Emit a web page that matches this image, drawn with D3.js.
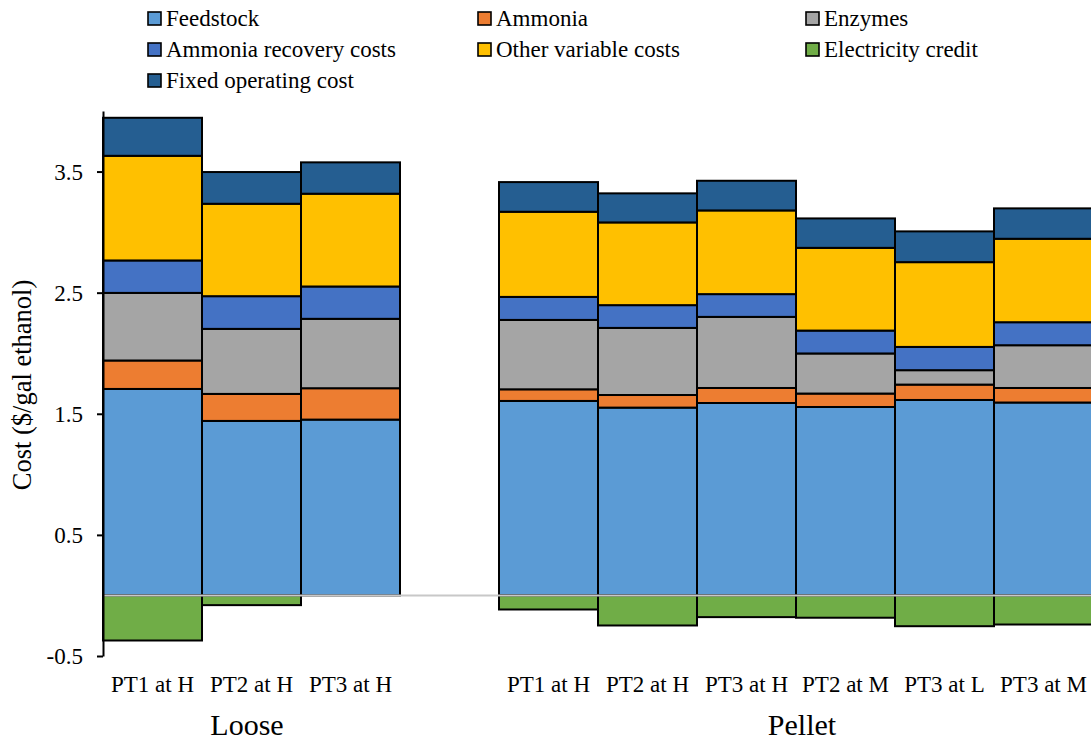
<!DOCTYPE html>
<html>
<head>
<meta charset="utf-8">
<script src="https://cdn.jsdelivr.net/npm/d3@7"></script>
<style>
  html, body { margin: 0; padding: 0; background: #fff; }
  svg { display: block; }
</style>
</head>
<body>
<svg id="chart" width="1091" height="744"></svg>
<script>
// Cost breakdown per pretreatment case ($/gal ethanol)
const groups = ["Loose", "Pellet"];
const categories = [
  { group: "Loose", label: "PT1 at H" },
  { group: "Loose", label: "PT2 at H" },
  { group: "Loose", label: "PT3 at H" },
  { group: "Pellet", label: "PT1 at H" },
  { group: "Pellet", label: "PT2 at H" },
  { group: "Pellet", label: "PT3 at H" },
  { group: "Pellet", label: "PT2 at M" },
  { group: "Pellet", label: "PT3 at L" },
  { group: "Pellet", label: "PT3 at M" }
];

const feedstock         = [1.705, 1.441, 1.452, 1.606, 1.551, 1.589, 1.556, 1.614, 1.593];
const ammonia           = [0.235, 0.223, 0.259, 0.096, 0.104, 0.124, 0.111, 0.127, 0.120];
const enzymes           = [0.558, 0.537, 0.573, 0.573, 0.554, 0.587, 0.331, 0.119, 0.353];
const ammoniaRecovery   = [0.268, 0.270, 0.267, 0.190, 0.188, 0.188, 0.189, 0.192, 0.190];
const otherVariable     = [0.864, 0.763, 0.766, 0.703, 0.683, 0.691, 0.683, 0.700, 0.689];
const electricityCredit = [-0.372, -0.080, 0.000, -0.116, -0.248, -0.179, -0.184, -0.254, -0.240];
const fixedOperating    = [0.314, 0.262, 0.259, 0.245, 0.240, 0.245, 0.243, 0.254, 0.251];

const yTicks = [-0.5, 0.5, 1.5, 2.5, 3.5];

const FONT = "Liberation Serif, DejaVu Serif, serif";

const series = [
  { key: "Feedstock", values: feedstock, color: "#5B9BD5" },
  { key: "Ammonia", values: ammonia, color: "#ED7D31" },
  { key: "Enzymes", values: enzymes, color: "#A5A5A5" },
  { key: "Ammonia recovery costs", values: ammoniaRecovery, color: "#4472C4" },
  { key: "Other variable costs", values: otherVariable, color: "#FFC000" },
  { key: "Electricity credit", values: electricityCredit, color: "#70AD47" },
  { key: "Fixed operating cost", values: fixedOperating, color: "#255E91" }
];

// Slots along the x axis: the loose cases, an empty spacer, then the pellet cases
const slots = [];
categories.forEach((c, i) => {
  if (i > 0 && c.group !== categories[i - 1].group) slots.push("gap-" + i);
  slots.push("c" + i);
});

const rows = categories.map((c, i) => {
  const r = { id: "c" + i };
  series.forEach(s => { r[s.key] = s.values[i]; });
  return r;
});

const stack = d3.stack()
  .keys(series.map(s => s.key))
  .offset(d3.stackOffsetDiverging);
const stacked = stack(rows);

const svg = d3.select("#chart");

const x = d3.scaleBand().domain(slots).range([103, 1093]).padding(0);
const y = d3.scaleLinear().domain([-0.5, 4.0]).range([656, 111]);

// Bars
const layer = svg.append("g");
stacked.forEach((st, si) => {
  layer.append("g")
    .attr("fill", series[si].color)
    .selectAll("rect")
    .data(st.filter(d => d[1] !== d[0]))
    .join("rect")
    .attr("x", d => x(d.data.id))
    .attr("width", x.bandwidth())
    .attr("y", d => y(Math.max(d[0], d[1])))
    .attr("height", d => Math.abs(y(d[0]) - y(d[1])))
    .attr("stroke", "#000")
    .attr("stroke-width", 2);
});

// Zero baseline
svg.append("line")
  .attr("x1", 103).attr("x2", 1091)
  .attr("y1", y(0)).attr("y2", y(0))
  .attr("stroke", "#c8c8c8")
  .attr("stroke-width", 2);

// Y axis
const yAxis = d3.axisLeft(y).tickValues(yTicks).tickSize(6).tickSizeOuter(0)
  .tickFormat(d => d.toFixed(1));
const yg = svg.append("g").attr("transform", "translate(103,0)").call(yAxis);
yg.select(".domain").attr("stroke", "#000").attr("stroke-width", 2);
yg.selectAll(".tick line").attr("stroke", "#000").attr("stroke-width", 2);
yg.selectAll(".tick text")
  .attr("x", -20)
  .attr("dy", "0.34em")
  .style("font-family", FONT)
  .attr("font-size", 23)
  .attr("fill", "#000");

// Y axis title
svg.append("text")
  .attr("transform", "translate(31, 385) rotate(-90)")
  .attr("text-anchor", "middle")
  .style("font-family", FONT)
  .attr("font-size", 26.5)
  .attr("fill", "#000")
  .text("Cost ($/gal ethanol)");

// Category labels
svg.append("g").selectAll("text")
  .data(categories)
  .join("text")
  .attr("x", (d, i) => x("c" + i) + x.bandwidth() / 2)
  .attr("y", 692)
  .attr("text-anchor", "middle")
  .style("font-family", FONT)
  .attr("font-size", 23)
  .attr("fill", "#000")
  .text(d => d.label);

// Group labels
const groupCenter = { Loose: 247, Pellet: 802 };
groups.forEach(g => {
  svg.append("text")
    .attr("x", groupCenter[g])
    .attr("y", 735)
    .attr("text-anchor", "middle")
    .style("font-family", FONT)
    .attr("font-size", 30)
    .attr("fill", "#000")
    .text(g);
});

// Legend
const legendOrder = [
  "Feedstock", "Ammonia", "Enzymes",
  "Ammonia recovery costs", "Other variable costs", "Electricity credit",
  "Fixed operating cost"
];
const colX = [148, 478, 806];
const rowY = [18.5, 49.5, 80.5];
const legend = svg.append("g");
legendOrder.forEach((k, i) => {
  const s = series.find(d => d.key === k);
  const gx = colX[i % 3], gy = rowY[Math.floor(i / 3)];
  legend.append("rect")
    .attr("x", gx).attr("y", gy - 6.5)
    .attr("width", 13).attr("height", 13)
    .attr("fill", s.color)
    .attr("stroke", "#000")
    .attr("stroke-width", 1.6);
  legend.append("text")
    .attr("x", gx + 18).attr("y", gy + 7)
    .style("font-family", FONT)
    .attr("font-size", 23)
    .attr("fill", "#000")
    .text(k);
});
</script>
</body>
</html>
